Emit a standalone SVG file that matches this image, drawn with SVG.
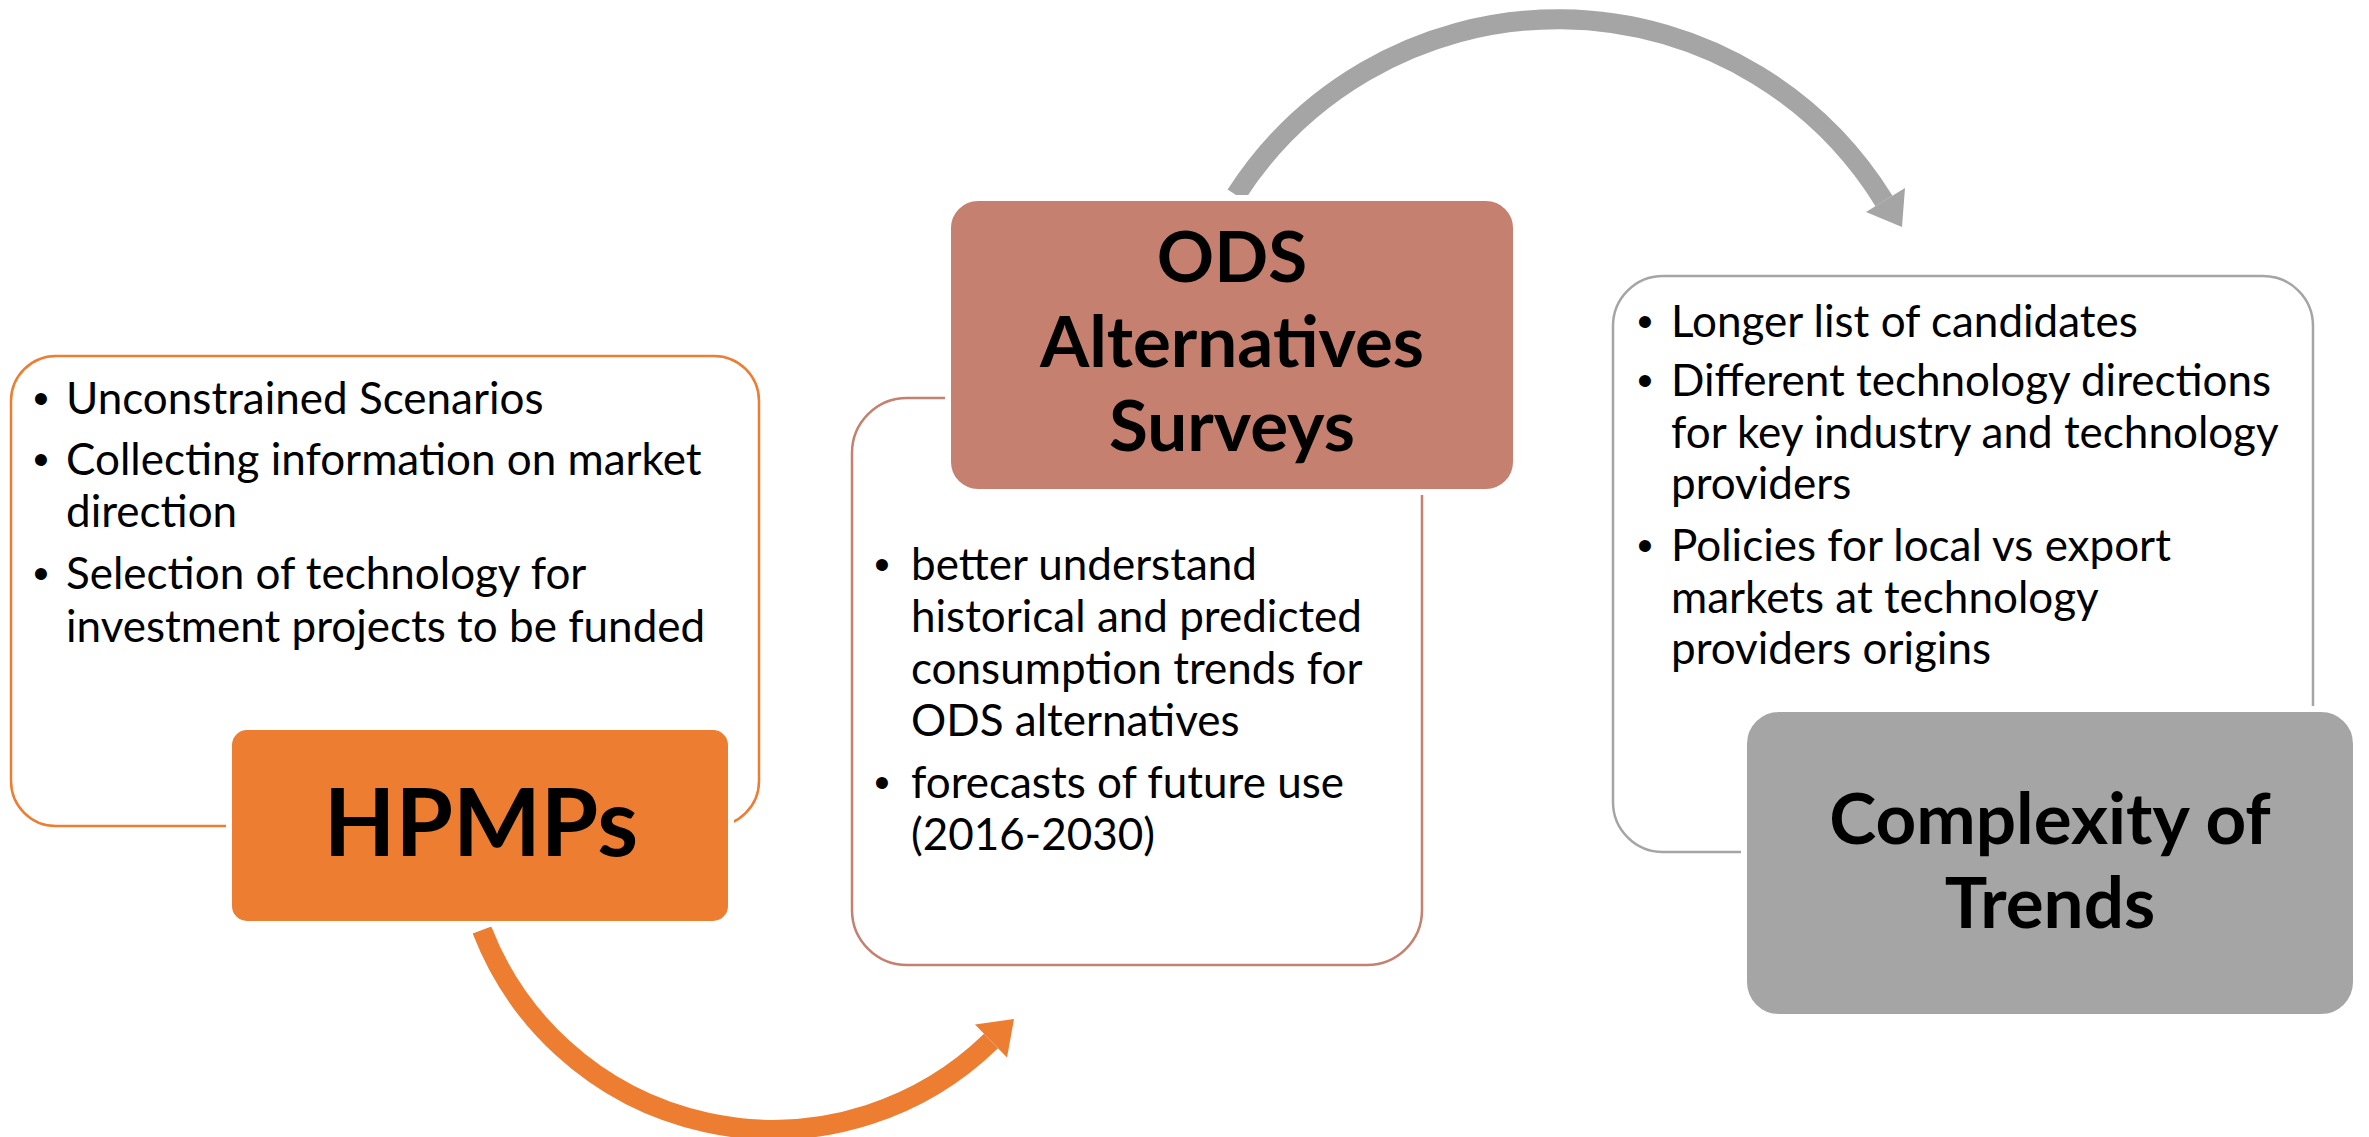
<svg xmlns="http://www.w3.org/2000/svg" width="2369" height="1137" viewBox="0 0 2369 1137">
<style>
.body{font-family:Lato,"Liberation Sans",sans-serif;font-size:44px;fill:#000}
.bul{font-family:"Liberation Sans",sans-serif;font-size:44px;fill:#000;text-anchor:middle}
.title{font-family:Lato,"Liberation Sans",sans-serif;font-weight:bold;fill:#000;text-anchor:middle}
.outer{fill:#fff;stroke-width:2.5}
.filled{stroke:#fff;stroke-width:6}
</style>
<rect width="2369" height="1137" fill="#fff"/>
<g id="connectors">
  <path d="M 482 930 A 312 312 0 0 0 991 1041" fill="none" stroke="#ED7D31" stroke-width="20"/>
  <polygon points="1014,1019 975,1024.5 1007,1057.5" fill="#ED7D31"/>
  <path d="M 1236 195 A 383 383 0 0 1 1884 201" fill="none" stroke="#A5A5A5" stroke-width="20"/>
  <polygon points="1902,227 1905,188 1866,212" fill="#A5A5A5"/>
</g>
<g id="hpmps">
  <rect class="outer" x="11" y="356" width="748" height="470" rx="45" stroke="#ED7D31"/>
  <text class="bul" x="41" y="414">•</text>
  <text class="body" x="66" y="414">Unconstrained Scenarios</text>
  <text class="bul" x="41" y="475">•</text>
  <text class="body" x="66" y="475">Collecting information on market</text>
  <text class="body" x="66" y="527">direction</text>
  <text class="bul" x="41" y="589">•</text>
  <text class="body" x="66" y="589">Selection of technology for</text>
  <text class="body" x="66" y="642">investment projects to be funded</text>
  <rect class="filled" x="229" y="727" width="502" height="197" rx="18" fill="#ED7D31"/>
  <text class="title" x="481" y="856" font-size="93">HPMPs</text>
</g>
<g id="ods">
  <rect class="outer" x="852" y="398" width="570" height="567" rx="55" stroke="#C5806F"/>
  <text class="bul" x="882" y="580">•</text>
  <text class="body" x="911" y="580">better understand</text>
  <text class="body" x="911" y="632">historical and predicted</text>
  <text class="body" x="911" y="684">consumption trends for</text>
  <text class="body" x="911" y="736">ODS alternatives</text>
  <text class="bul" x="882" y="798">•</text>
  <text class="body" x="911" y="798">forecasts of future use</text>
  <text class="body" x="911" y="850">(2016-2030)</text>
  <rect class="filled" x="948" y="198" width="568" height="294" rx="30" fill="#C5806F"/>
  <text class="title" x="1232" y="282" font-size="71">ODS</text>
  <text class="title" x="1232" y="367" font-size="71">Alternatives</text>
  <text class="title" x="1232" y="451" font-size="71">Surveys</text>
</g>
<g id="complexity">
  <rect class="outer" x="1613" y="276" width="700" height="576" rx="50" stroke="#A5A5A5"/>
  <text class="bul" x="1645" y="337">•</text>
  <text class="body" x="1671" y="337">Longer list of candidates</text>
  <text class="bul" x="1645" y="396">•</text>
  <text class="body" x="1671" y="396">Different technology directions</text>
  <text class="body" x="1671" y="448">for key industry and technology</text>
  <text class="body" x="1671" y="499">providers</text>
  <text class="bul" x="1645" y="561">•</text>
  <text class="body" x="1671" y="561">Policies for local vs export</text>
  <text class="body" x="1671" y="613">markets at technology</text>
  <text class="body" x="1671" y="664">providers origins</text>
  <rect class="filled" x="1744" y="709" width="612" height="308" rx="35" fill="#A5A5A5"/>
  <text class="title" x="2050" y="844" font-size="71">Complexity of</text>
  <text class="title" x="2050" y="928" font-size="71">Trends</text>
</g>
</svg>
